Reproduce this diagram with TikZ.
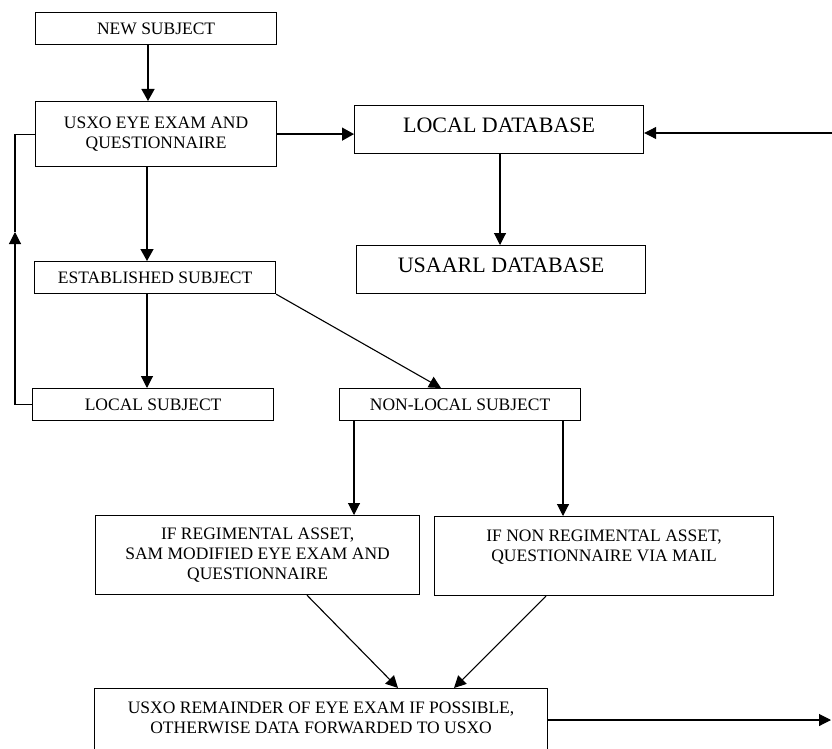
\documentclass[tikz,border=0pt]{standalone}
\usepackage{fontspec}
\setmainfont{Liberation Serif}
\usetikzlibrary{arrows.meta,calc}
\begin{document}
\begin{tikzpicture}[x=1pt,y=-1pt,
  box/.style={draw,line width=1.2pt,anchor=north west,inner sep=0pt,align=center,
    font=\fontsize{17.5}{20}\selectfont},
  bigbox/.style={draw,line width=1.2pt,anchor=north west,inner sep=0pt,
    font=\fontsize{22}{24}\selectfont,text depth=8pt},
  arr/.style={line width=1.4pt,-{Triangle[length=12pt,width=13pt]}},
  thinarr/.style={line width=1.1pt,-{Triangle[length=12pt,width=12pt]}},
  plain/.style={line width=1.1pt}]
\useasboundingbox (0,0) rectangle (832,749);
\clip (0,0) rectangle (832,749);

\node[box,minimum width=241pt,minimum height=32pt] (new) at (35,12) {NEW SUBJECT};
\node[box,minimum width=241pt,minimum height=65pt] (usxo) at (35,101) {USXO EYE EXAM AND\\QUESTIONNAIRE};
\node[bigbox,minimum width=289pt,minimum height=48pt] (ldb) at (354,105) {LOCAL DATABASE};
\node[bigbox,minimum width=289pt,minimum height=48pt] (udb) at (356,245) {USAARL DATABASE};
\node[box,minimum width=241pt,minimum height=32pt] (est) at (34,261) {ESTABLISHED SUBJECT};
\node[box,minimum width=241pt,minimum height=32pt] (lsub) at (32,388) {LOCAL SUBJECT};
\node[box,minimum width=241pt,minimum height=32pt] (nl) at (339,388) {NON-LOCAL SUBJECT};
\node[box,minimum width=324pt,minimum height=79pt] (reg) at (95,515) {IF REGIMENTAL ASSET,\\SAM MODIFIED EYE EXAM AND\\QUESTIONNAIRE};
\node[box,minimum width=339pt,minimum height=79pt] (nreg) at (434,516) {IF NON REGIMENTAL ASSET,\\QUESTIONNAIRE VIA MAIL\\\mbox{}};
\node[box,minimum width=453pt,minimum height=79pt] (rem) at (94,688) {USXO REMAINDER OF EYE EXAM IF POSSIBLE,\\OTHERWISE DATA FORWARDED TO USXO\\\mbox{}};

\coordinate (rin) at (832,133);
\coordinate (rout) at (831,720);
\coordinate (loopturn) at (15,232);
\coordinate (a1) at ($(new.south west)+(113,0)$);
\coordinate (a2) at ($(ldb.south west)+(146,0)$);
\coordinate (a3) at ($(usxo.south west)+(112,0)$);
\coordinate (a4) at ($(est.south west)+(113,0)$);
\coordinate (a5) at ($(nl.south west)+(15,0)$);
\coordinate (a6) at ($(nl.south west)+(224,0)$);
\coordinate (a7) at ($(rem.north east)+(0,32)$);

\draw[arr] (a1) -- (a1 |- usxo.north);
\draw[arr] (usxo.east) -- (usxo.east -| ldb.west);
\draw[thinarr] (rin) -- (rin -| ldb.east);
\draw[thinarr] (a2) -- (a2 |- udb.north);
\draw[arr] (a3) -- (a3 |- est.north);
\draw[thinarr] (lsub.west) -| (loopturn);
\draw[plain] (loopturn) |- (usxo.west);
\draw[thinarr] (a4) -- (a4 |- lsub.north);
\draw[thinarr] (est.south east) -- ($(nl.north west)+(102,0)$);
\draw[thinarr] (a5) -- (a5 |- reg.north);
\draw[thinarr] (a6) -- (a6 |- nreg.north);
\draw[thinarr] ($(reg.south west)+(212,0)$) -- ($(rem.north west)+(304,0)$);
\draw[thinarr] ($(nreg.south west)+(112,0)$) -- ($(rem.north west)+(360,0)$);
\draw[thinarr] (a7) -- (rout);
\end{tikzpicture}
\end{document}
